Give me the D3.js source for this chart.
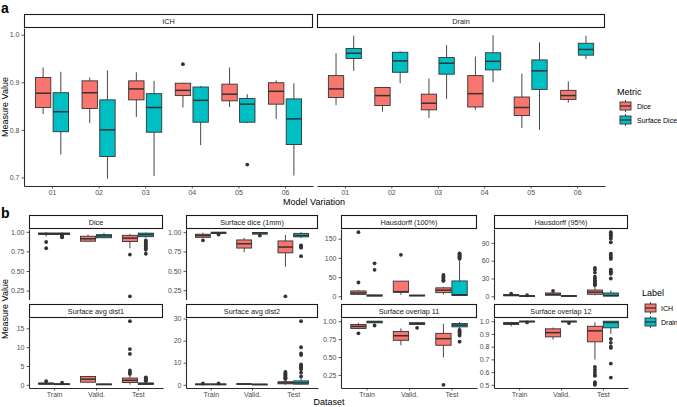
<!DOCTYPE html>
<html><head><meta charset="utf-8">
<script src="https://cdn.jsdelivr.net/npm/d3@7"></script>
<style>body{margin:0;background:#fff}svg{display:block;font-family:"Liberation Sans",Arial,Helvetica,sans-serif}</style>
</head><body><svg id="c" width="677" height="407"></svg>
<script>
// ---------------- Panel a data ----------------
const variations = ["01","02","03","04","05","06"];
const metricsA = ["Dice","Surface Dice"];
const facetsA = ["ICH","Drain"];
// each entry: [whiskerLow, q1, median, q3, whiskerHigh]
const ichDice = [[0.833,0.847,0.877,0.910,0.931],[0.814,0.845,0.878,0.903,0.910],[0.827,0.863,0.886,0.903,0.921],[0.847,0.872,0.883,0.898,0.899],[0.848,0.861,0.875,0.896,0.931],[0.823,0.854,0.881,0.899,0.904]];
const ichSurf = [[0.748,0.796,0.838,0.878,0.922],[0.697,0.744,0.800,0.863,0.925],[0.703,0.795,0.847,0.876,0.903],[0.768,0.816,0.862,0.890,0.892],[0.814,0.816,0.854,0.866,0.875],[0.704,0.769,0.823,0.865,0.898]];
const drainDice = [[0.852,0.868,0.886,0.914,0.961],[0.838,0.851,0.872,0.889,0.889],[0.825,0.842,0.856,0.875,0.908],[0.842,0.848,0.876,0.914,0.954],[0.804,0.830,0.847,0.869,0.918],[0.857,0.864,0.872,0.883,0.902]];
const drainSurf = [[0.924,0.950,0.961,0.971,0.998],[0.898,0.921,0.945,0.963,0.965],[0.865,0.917,0.940,0.952,0.978],[0.900,0.926,0.944,0.962,0.999],[0.800,0.885,0.924,0.947,0.984],[0.949,0.957,0.969,0.982,0.998]];
const ichDiceOut = [[],[],[],[0.938],[],[]];
const ichSurfOut = [[],[],[],[],[0.727],[]];
const drainDiceOut = [[],[],[],[],[],[]];
const drainSurfOut = [[],[],[],[],[],[]];
const ticksA = [0.7,0.8,0.9,1.0];

// ---------------- Panel b data ----------------
const datasets = ["Train","Valid.","Test"];
const labelsB = ["ICH","Drain"];
const metricNames = ["Dice","Surface dice (1mm)","Hausdorff (100%)","Hausdorff (95%)","Surface avg dist1","Surface avg dist2","Surface overlap 11","Surface overlap 12"];
const bICH = [
  [[0.94,0.965,0.975,0.985,0.995],[0.876,0.88,0.911,0.943,0.964],[0.79,0.876,0.92,0.955,0.975]],
  [[0.926,0.934,0.957,0.974,0.995],[0.742,0.795,0.851,0.9,0.926],[0.553,0.733,0.808,0.887,0.966]],
  [[3.5,5,8.7,14,16.5],[3.5,10.5,12,39.5,39.5],[5,9.5,16,22,24.5]],
  [[0.3,0.8,1.7,3,3.8],[1.2,1.7,3.4,5.6,7],[1.5,3.4,7,10.6,17]],
  [[0.05,0.15,0.3,0.5,0.8],[0.6,0.7,1.5,2.2,2.4],[0.05,0.6,1.2,1.8,2.6]],
  [[0,0.05,0.2,0.4,0.5],[0.25,0.3,0.4,0.5,0.55],[0,0.45,0.9,1.4,2.2]],
  [[0.89,0.899,0.927,0.954,0.977],[0.664,0.733,0.797,0.857,0.9],[0.493,0.664,0.756,0.83,0.965]],
  [[0.96,0.974,0.982,0.99,0.995],[0.855,0.877,0.91,0.94,0.95],[0.698,0.838,0.924,0.96,0.99]]
];
const bDrain = [
  [[0.96,0.965,0.975,0.985,0.995],[0.92,0.924,0.947,0.964,0.987],[0.924,0.938,0.964,0.983,0.99]],
  [[0.975,0.983,0.994,1.0,1.0],[0.96,0.975,0.99,0.995,1.0],[0.926,0.94,0.957,0.985,1.0]],
  [[0,0.5,2,3.5,4],[0.5,1,2,3,3.5],[0.5,2,4,40,96]],
  [[0,0.2,0.6,1,1.3],[0.3,0.5,0.8,1.1,1.3],[0,0.3,1.5,5.6,10]],
  [[0,0.05,0.15,0.3,0.4],[0.05,0.1,0.15,0.2,0.25],[0,0.1,0.3,0.5,0.9]],
  [[0,0.05,0.2,0.4,0.5],[0.05,0.1,0.2,0.3,0.35],[0,0.3,0.9,1.8,3.0]],
  [[0.97,0.977,0.99,1.0,1.0],[0.95,0.954,0.97,0.977,0.99],[0.9,0.921,0.945,0.968,0.99]],
  [[0.993,0.995,0.998,1.0,1.0],[0.99,0.995,0.998,1.0,1.0],[0.9,0.948,0.99,1.0,1.0]]
];
const bICHOut = [
  [[0.87,0.79],[],[0.71,0.177]],
  [[0.895],[],[0.171]],
  [[36,167],[108],[40,42,45,48,52,56]],
  [[4.5],[9],[19,20,22,25,27,30,33,40,45,48]],
  [[0.95],[],[2.9,3.3,3.8,8.2,9.5,16.9]],
  [[0.6],[],[2.6,3.0,3.4,3.8,4.2,4.6,5.0,5.4,5.8]],
  [[0.83],[],[0.112]],
  [[],[],[0.64,0.62,0.60,0.58,0.57,0.52,0.51,0.50]]
];
const bDrainOut = [
  [[0.955,0.945,0.935,0.93],[],[0.89,0.87,0.85,0.83,0.81,0.79,0.77,0.72]],
  [[0.97],[0.957],[0.83,0.82,0.81,0.80,0.69]],
  [[69,86],[],[98,100,102,104,106,108,110,112]],
  [[1.8],[],[30,38,40,42,45,63,66,69,72,91,97,100,103,105,108]],
  [[0.55],[],[1.0,1.2,1.4,1.6,1.8,2.0]],
  [[0.6],[],[3.8,5.5,7.1,7.6,8.1,8.6,9.2,13.5,14.2,17,28.8]],
  [[0.94],[0.907],[0.88,0.86,0.84,0.82,0.80,0.714]],
  [[0.99],[0.985],[0.86,0.83,0.80,0.79,0.667,0.557]]
];
const bTicks = [[0.25,0.5,0.75,1.0],[0.25,0.5,0.75,1.0],[0,50,100,150],[0,30,60,90],[0,5,10,15],[0,10,20,30],[0.25,0.5,0.75,1.0],[0.5,0.6,0.7,0.8,0.9,1.0]];
const bFormats = [".2f",".2f","d","d","d","d",".2f",".1f"];

// ---------------- drawing ----------------
const RED = "#F8766D", TEAL = "#00BFC4", INK = "#333333";
const svg = d3.select("#c");
svg.append("rect").attr("width",677).attr("height",407).attr("fill","#fff");

function extentOf(statsList, outList){
  const vals = [];
  statsList.forEach(s => s.forEach(r => r.forEach(v => vals.push(v))));
  outList.forEach(o => o.forEach(r => r.forEach(v => vals.push(v))));
  const [lo, hi] = d3.extent(vals);
  const r = hi - lo;
  return [lo - 0.05*r, hi + 0.05*r];
}

function strip(x0, x1, y0, y1, label){
  svg.append("rect").attr("x",x0+0.5).attr("y",y0+0.5).attr("width",x1-x0-1).attr("height",y1-y0-1)
    .attr("fill","#fff").attr("stroke","#1a1a1a").attr("stroke-width",1.1);
  svg.append("text").attr("x",(x0+x1)/2).attr("y",(y0+y1)/2+2.6).attr("text-anchor","middle")
    .attr("font-size",7.3).attr("fill","#1a1a1a").text(label);
}

function boxPanel(o){
  const g = svg.append("g");
  const x = d3.scalePoint().domain(o.cats).range([o.x0,o.x1]).padding(0.6);
  const y = d3.scaleLinear().domain(o.domain).range([o.y1,o.y0]);
  const step = x.step();
  o.series.forEach((s, si) => {
    const dx = (si === 0 ? -1 : 1) * o.off * step;
    const w = o.bw * step;
    o.cats.forEach((c, ci) => {
      const st = s.stats[ci], cx = x(c) + dx;
      g.append("line").attr("x1",cx).attr("x2",cx).attr("y1",y(st[4])).attr("y2",y(st[3])).attr("stroke",INK).attr("stroke-width",0.9);
      g.append("line").attr("x1",cx).attr("x2",cx).attr("y1",y(st[1])).attr("y2",y(st[0])).attr("stroke",INK).attr("stroke-width",0.9);
      g.append("rect").attr("x",cx-w/2).attr("y",y(st[3])).attr("width",w).attr("height",Math.max(0.8,y(st[1])-y(st[3])))
        .attr("fill",s.color).attr("stroke",INK).attr("stroke-width",0.9);
      g.append("line").attr("x1",cx-w/2).attr("x2",cx+w/2).attr("y1",y(st[2])).attr("y2",y(st[2])).attr("stroke",INK).attr("stroke-width",1.5);
      (s.out[ci] || []).forEach(v => {
        g.append("circle").attr("cx",cx).attr("cy",y(v)).attr("r",1.9).attr("fill",INK);
      });
    });
  });
  if (o.showY){
    const ax = g.append("g").attr("transform",`translate(${o.x0},0)`)
      .call(d3.axisLeft(y).tickValues(o.ticks).tickFormat(d3.format(o.fmt)).tickSize(2.5).tickSizeOuter(0).tickPadding(2));
    styleAxis(ax);
  }
  if (o.showX){
    const ax = g.append("g").attr("transform",`translate(0,${o.y1})`)
      .call(d3.axisBottom(x).tickSize(2.5).tickSizeOuter(0).tickPadding(1.5));
    styleAxis(ax);
  }
}
function styleAxis(ax){
  ax.select(".domain").attr("stroke","#2b2b2b").attr("stroke-width",1.1);
  ax.selectAll(".tick line").attr("stroke","#333").attr("stroke-width",0.8);
  ax.selectAll(".tick text").attr("font-size",7).attr("fill","#4d4d4d").attr("font-family","Liberation Sans, Arial, sans-serif");
}

// ---- Panel a ----
const domA = extentOf([ichDice,ichSurf,drainDice,drainSurf],[ichDiceOut,ichSurfOut,drainDiceOut,drainSurfOut]);
const aPanels = [
  {x0:24, x1:313, name:facetsA[0], series:[{stats:ichDice,out:ichDiceOut,color:RED},{stats:ichSurf,out:ichSurfOut,color:TEAL}], showY:true},
  {x0:317, x1:605, name:facetsA[1], series:[{stats:drainDice,out:drainDiceOut,color:RED},{stats:drainSurf,out:drainSurfOut,color:TEAL}], showY:false}
];
aPanels.forEach(p => {
  strip(p.x0, p.x1, 14, 28, p.name);
  boxPanel({cats:variations, x0:p.x0, x1:p.x1, y0:28, y1:186, domain:domA, series:p.series, bw:0.33, off:0.19,
    showY:p.showY, ticks:ticksA, fmt:".1f", showX:true});
});
svg.append("text").attr("x",1).attr("y",13).attr("font-size",14).attr("font-weight","bold").text("a");
svg.append("text").attr("x",314).attr("y",205).attr("text-anchor","middle").attr("font-size",9).text("Model Variation");
svg.append("text").attr("transform","translate(8,107) rotate(-90)").attr("text-anchor","middle").attr("font-size",9).text("Measure Value");

function legendKey(x, y, color){
  svg.append("line").attr("x1",x+5.5).attr("x2",x+5.5).attr("y1",y-6).attr("y2",y+6).attr("stroke",INK).attr("stroke-width",0.9);
  svg.append("rect").attr("x",x).attr("y",y-4).attr("width",11).attr("height",8).attr("fill",color).attr("stroke",INK).attr("stroke-width",0.9);
  svg.append("line").attr("x1",x).attr("x2",x+11).attr("y1",y).attr("y2",y).attr("stroke",INK).attr("stroke-width",1.3);
}
svg.append("text").attr("x",617).attr("y",95).attr("font-size",9).text("Metric");
metricsA.forEach((m,i) => {
  const cy = 106 + i*14;
  legendKey(620, cy, i===0?RED:TEAL);
  svg.append("text").attr("x",637).attr("y",cy+2.5).attr("font-size",7).text(m);
});

// ---- Panel b ----
const bCols = [[29,163],[186,318],[341,477],[494,628]];
const bRows = [{s0:215,s1:229,y0:229,y1:299.5},{s0:304,s1:318,y0:318,y1:388}];
metricNames.forEach((m, k) => {
  const col = bCols[k % 4], row = bRows[Math.floor(k / 4)];
  strip(col[0], col[1], row.s0, row.s1, m);
  const dom = extentOf([bICH[k], bDrain[k]], [bICHOut[k], bDrainOut[k]]);
  boxPanel({cats:datasets, x0:col[0], x1:col[1], y0:row.y0, y1:row.y1, domain:dom,
    series:[{stats:bICH[k],out:bICHOut[k],color:RED},{stats:bDrain[k],out:bDrainOut[k],color:TEAL}],
    bw:0.36, off:0.19, showY:true, ticks:bTicks[k], fmt:bFormats[k], showX:k >= 4});
});
svg.append("text").attr("x",1).attr("y",218).attr("font-size",14).attr("font-weight","bold").text("b");
svg.append("text").attr("x",329).attr("y",405).attr("text-anchor","middle").attr("font-size",9).text("Dataset");
svg.append("text").attr("transform","translate(8,309) rotate(-90)").attr("text-anchor","middle").attr("font-size",9).text("Measure Value");
svg.append("text").attr("x",642).attr("y",296).attr("font-size",9).text("Label");
labelsB.forEach((l,i) => {
  const cy = 308 + i*14;
  legendKey(645, cy, i===0?RED:TEAL);
  svg.append("text").attr("x",661).attr("y",cy+2.5).attr("font-size",7).text(l);
});
</script></body></html>
